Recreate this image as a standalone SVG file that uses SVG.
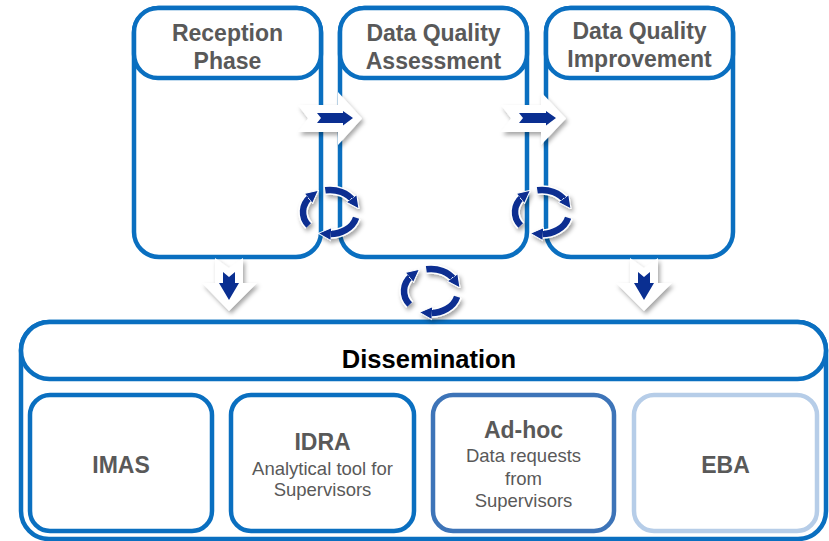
<svg xmlns="http://www.w3.org/2000/svg" width="829" height="541" viewBox="0 0 829 541">
<defs>
<style>
.frame{fill:none;stroke:#0a6fc0;stroke-width:4.5}
.hdr{fill:#fff;stroke:#0a6fc0;stroke-width:4.5}
.title{font-family:"Liberation Sans",Arial,sans-serif;font-weight:bold;font-size:23px;fill:#595959;text-anchor:middle}
.sub{font-family:"Liberation Sans",Arial,sans-serif;font-size:18.5px;fill:#595959;text-anchor:middle}
.diss{font-family:"Liberation Sans",Arial,sans-serif;font-weight:bold;font-size:25.5px;fill:#000;text-anchor:middle}
.warrow{fill:#fff;filter:url(#sh)}
.barrow{fill:#0a2f91}
.cyc-w{fill:none;stroke:#fff;stroke-width:9.5}
.cyc-b{fill:none;stroke:#0a2f91;stroke-width:6.5;marker-end:url(#ah)}
</style>
<filter id="sh" x="-30%" y="-30%" width="170%" height="170%">
<feDropShadow dx="2" dy="3" stdDeviation="2" flood-color="#000" flood-opacity="0.35"/>
</filter>
<marker id="ah" viewBox="0 0 10 10" refX="2.5" refY="5" markerWidth="13" markerHeight="15" markerUnits="userSpaceOnUse" orient="auto">
<path d="M0,0 L10,5 L0,10 z" fill="#0a2f91" stroke="#fff" stroke-width="0.8"/>
</marker>
<g id="cycle">
<path class="cyc-w" d="M-4.68,-21.66 A27,22 0 0 1 23.38,-11"/>
<path class="cyc-w" d="M26.08,5.69 A27,22 0 0 1 -1.9,21.95"/>
<path class="cyc-w" d="M-21.3,13.5 A27,22 0 0 1 -19.1,-15.55"/>
<path class="cyc-b" d="M-4.68,-21.66 A27,22 0 0 1 23.38,-11"/>
<path class="cyc-b" d="M26.08,5.69 A27,22 0 0 1 -1.9,21.95"/>
<path class="cyc-b" d="M-21.3,13.5 A27,22 0 0 1 -19.1,-15.55"/>
</g>
</defs>
<rect width="829" height="541" fill="#fff"/>

<g id="reception">
<rect class="frame" x="134" y="8" width="187" height="249" rx="25"/>
<rect class="hdr" x="134" y="8" width="187" height="70" rx="24"/>
<text class="title" x="227.5" y="41">Reception</text>
<text class="title" x="227.5" y="69">Phase</text>
</g>
<g id="assessment">
<rect class="frame" x="340" y="8" width="187" height="249" rx="25"/>
<rect class="hdr" x="340" y="8" width="187" height="70" rx="24"/>
<text class="title" x="433.5" y="41">Data Quality</text>
<text class="title" x="433.5" y="69">Assessment</text>
</g>
<g id="improvement">
<rect class="frame" x="546" y="8" width="187" height="249" rx="25"/>
<rect class="hdr" x="546" y="8" width="187" height="70" rx="24"/>
<text class="title" x="639.5" y="39">Data Quality</text>
<text class="title" x="639.5" y="67">Improvement</text>
</g>

<g id="dissemination">
<rect class="frame" x="21" y="322" width="805" height="217" rx="28"/>
<rect class="hdr" x="21" y="322" width="805" height="57" rx="28.5"/>
<text class="diss" x="429" y="368">Dissemination</text>
</g>
<g id="imas">
<rect class="frame" x="30" y="395" width="182" height="136" rx="20"/>
<text class="title" x="121" y="473">IMAS</text>
</g>
<g id="idra">
<rect class="frame" x="231" y="395" width="183" height="136" rx="20"/>
<text class="title" x="322.5" y="450">IDRA</text>
<text class="sub" x="322.5" y="475">Analytical tool for</text>
<text class="sub" x="322.5" y="496">Supervisors</text>
</g>
<g id="adhoc">
<rect class="frame" x="433" y="395" width="181" height="136" rx="20" style="stroke:#3d74b8"/>
<text class="title" x="523.5" y="438">Ad-hoc</text>
<text class="sub" x="523.5" y="462">Data requests</text>
<text class="sub" x="523.5" y="485">from</text>
<text class="sub" x="523.5" y="507">Supervisors</text>
</g>
<g id="eba">
<rect class="frame" x="634" y="395" width="183" height="136" rx="20" style="stroke:#b6cde8"/>
<text class="title" x="725.5" y="473">EBA</text>
</g>

<g id="connectors">
<g id="arrow-r1">
<polygon class="warrow" points="298,105 338,105 338,92 362,118.5 338,145 338,132 298,132 308,118.5"/>
<polygon class="barrow" points="317,113 343,113 343,111 353,118 343,125.5 343,123 317,123 321,118"/>
</g>
<g id="arrow-r2">
<polygon class="warrow" points="501,105 541,105 541,92 566,118.5 541,145 541,132 501,132 511,118.5"/>
<polygon class="barrow" points="519,113 546,113 546,111 556,118 546,125.5 546,123 519,123 523,118"/>
</g>
<g id="arrow-d1">
<polygon class="warrow" points="215,258 229,268 243,258 243,283 257,283 229,311 202,283 215,283"/>
<polygon class="barrow" points="223,272 229,277 235,272 235,283 239,283 229,300 219,283 223,283"/>
</g>
<g id="arrow-d2">
<polygon class="warrow" points="630,258 644,268 658,258 658,283 672,283 644,311 616,283 630,283"/>
<polygon class="barrow" points="638,272 644,277 650,272 650,283 654,283 644,300 634,283 638,283"/>
</g>
<g filter="url(#sh)">
<use href="#cycle" transform="translate(330,212)"/>
<use href="#cycle" transform="translate(542,212)"/>
<use href="#cycle" transform="translate(431,291)"/>
</g>
</g>
</svg>
